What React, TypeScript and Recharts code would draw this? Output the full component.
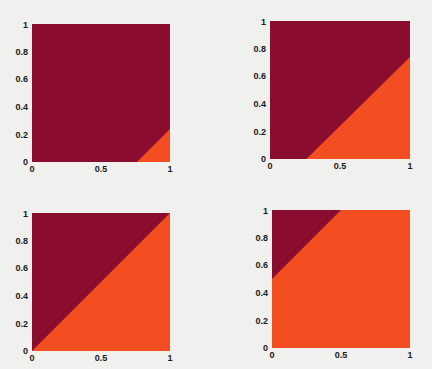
import { ComposedChart, Area, XAxis, YAxis, ReferenceArea } from "recharts";

// boundary between the two regions (x -> y)
const panel1X = [0, 0.76, 1];
const panel1Y = [0, 0, 0.24];
const panel2X = [0, 0.26, 1];
const panel2Y = [0, 0, 0.74];
const panel3X = [0, 1];
const panel3Y = [0, 1];
const panel4X = [0, 0.5, 1];
const panel4Y = [0.5, 1, 1];

const xTicks = [0, 0.5, 1];
const yTicks = [0, 0.2, 0.4, 0.6, 0.8, 1];

const DARK = "#8a0c2e";
const ORANGE = "#f34d22";

const tickStyle = { fontSize: 9, fill: "#1a1a1a", fontFamily: "Liberation Sans, Arial, sans-serif", fontWeight: 600 };

type PanelProps = { xs: number[]; ys: number[]; left: number; top: number; plotW: number; plotH: number };

const Panel = ({ xs, ys, left, top, plotW, plotH }: PanelProps) => {
  const data = xs.map((x, i) => ({ x, y: ys[i] }));
  const yAxisW = 30;
  const xAxisH = 20;
  const width = yAxisW + plotW + 20;
  const height = plotH + xAxisH + 6;
  return (
    <div style={{ position: "absolute", left: left - yAxisW, top: top - 4 }}>
      <ComposedChart width={width} height={height} data={data} margin={{ top: 4, right: 20, left: 0, bottom: 2 }}>
        <XAxis type="number" dataKey="x" domain={[0, 1]} ticks={xTicks} axisLine={false} tickLine={false}
          tick={tickStyle} tickSize={2} tickMargin={2} height={xAxisH} allowDataOverflow />
        <YAxis type="number" domain={[0, 1]} ticks={yTicks} axisLine={false} tickLine={false}
          tick={tickStyle} tickSize={2} tickMargin={2} width={yAxisW} allowDataOverflow />
        <ReferenceArea x1={0} x2={1} y1={0} y2={1} fill={DARK} fillOpacity={1} stroke="none" ifOverflow="hidden" />
        <Area type="linear" dataKey="y" baseValue={0} fill={ORANGE} fillOpacity={1} stroke="none"
          isAnimationActive={false} dot={false} activeDot={false} />
      </ComposedChart>
    </div>
  );
};

export default function App() {
  return (
    <div style={{ position: "absolute", left: 0, top: 0, width: 432, height: 369, background: "#f0f0ee", overflow: "hidden" }}>
      <Panel xs={panel1X} ys={panel1Y} left={32} top={24} plotW={138} plotH={138} />
      <Panel xs={panel2X} ys={panel2Y} left={270} top={21} plotW={140} plotH={138} />
      <Panel xs={panel3X} ys={panel3Y} left={32} top={213} plotW={138} plotH={138} />
      <Panel xs={panel4X} ys={panel4Y} left={272} top={210} plotW={138} plotH={138} />
    </div>
  );
}
